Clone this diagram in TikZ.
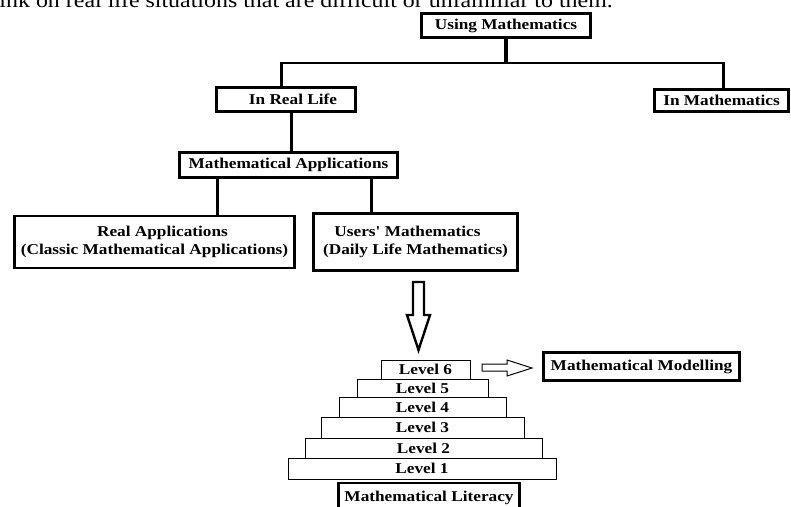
\documentclass[tikz,border=0pt]{standalone}
\usepackage{fontspec}
\setmainfont{Liberation Serif}
\usepackage{graphicx}
\newcommand\sx[1]{\scalebox{1.15}[1]{#1}}
\begin{document}
\begin{tikzpicture}[x=1pt,y=-1pt,
  box/.style={draw, line width=2.6pt, fill=white, inner sep=0pt, font=\bfseries\fontsize{15}{18}\selectfont, align=center},
  lvl/.style={draw, line width=0.9pt, fill=white, inner sep=0pt, font=\bfseries\fontsize{15}{18}\selectfont},
  conn/.style={line width=3pt},
  hollow/.style={draw, line width=2.4pt, line join=miter, fill=white}]
\useasboundingbox (0,0) rectangle (791,506);
\clip (0,0) rectangle (791,506);
\fill[white] (0,0) rectangle (791,506);

% cut-off text line at the top
\node[anchor=base east, inner sep=0pt, font=\fontsize{20.8}{24}\selectfont] (top) at (613,7)
  {\sx{think on real life situations that are difficult or unfamiliar to them.}};

% tree boxes
\node[box, minimum width=169pt, minimum height=24pt] (um) at (506,25.5) {\sx{Using Mathematics}};
\node[box, minimum width=139pt, minimum height=24pt] (irl) at (286,99.5) {\hspace*{14pt}\sx{In Real Life}};
\node[box, minimum width=134pt, minimum height=22pt] (im) at (721.5,100.5) {\sx{In Mathematics}};
\node[box, minimum width=218pt, minimum height=25pt] (ma) at (288.5,165) {\sx{Mathematical Applications}};
\node[box, minimum width=280pt, minimum height=52pt] (ra) at (154.5,242)
  {\hspace*{16pt}\sx{Real Applications}\\\sx{(Classic Mathematical Applications)}};
\node[box, minimum width=204pt, minimum height=57pt] (ud) at (415.5,242)
  {\sx{Users\textquotesingle{} Mathematics}\hspace*{16pt}\\\sx{(Daily Life Mathematics)}};

% connectors
\coordinate (hl) at (281,63);
\coordinate (hr) at (723,63);
\coordinate (c1) at (291,0);
\coordinate (c2) at (217,0);
\coordinate (c3) at (371,0);
\draw[line width=4pt] (um.south) -- (um.south |- hl);
\draw[line width=2pt] ([xshift=-1.5pt]hl) -- ([xshift=1.5pt]hr);
\draw[conn] (hl) -- (hl |- irl.north);
\draw[conn] (hr) -- (hr |- im.north);
\draw[conn] (irl.south -| c1) -- (ma.north -| c1);
\draw[conn] (ma.south -| c2) -- (ra.north -| c2);
\draw[conn] (ma.south -| c3) -- (ud.north -| c3);

% big hollow down arrow
\draw[hollow] (413,282) -- (424,282) -- (424,315) -- (430,315) -- (418.5,350) -- (407,315) -- (413,315) -- cycle;

% pyramid of levels
\node[lvl, minimum width=268pt, minimum height=21pt] (l1) at (422,468.5) {\sx{Level 1}};
\node[lvl, minimum width=237pt, minimum height=20pt] (l2) at (423.5,448) {\sx{Level 2}};
\node[lvl, minimum width=203pt, minimum height=21pt] (l3) at (422.5,427.5) {\sx{Level 3}};
\node[lvl, minimum width=167pt, minimum height=20pt] (l4) at (422.5,407) {\sx{Level 4}};
\node[lvl, minimum width=131pt, minimum height=18pt] (l5) at (422.5,388) {\sx{Level 5}};
\node[lvl, minimum width=89pt, minimum height=19pt] (l6) at (425.5,369.5) {\sx{Level 6}};

% small hollow right arrow
\draw[line width=1pt, line join=miter, fill=white] (482,364) -- (507,364) -- (507,360) -- (532,368) -- (507,376) -- (507,371) -- (482,371) -- cycle;

\node[box, minimum width=196pt, minimum height=28pt] (mm) at (641.5,366.5) {\sx{Mathematical Modelling}};
\node[box, minimum width=181pt, minimum height=30pt] (ml) at (429,498) {\sx{Mathematical Literacy}};
\end{tikzpicture}
\end{document}
